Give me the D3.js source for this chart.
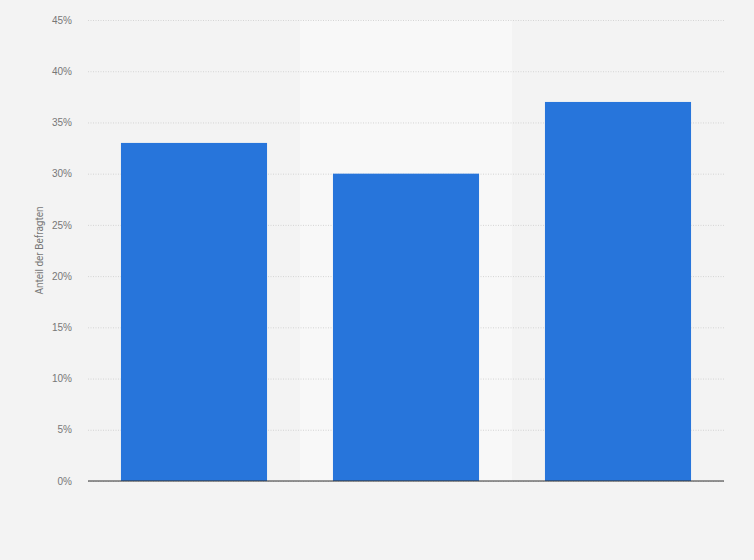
<!DOCTYPE html>
<html>
<head>
<meta charset="utf-8">
<script src="https://cdn.jsdelivr.net/npm/d3@7"></script>
<style>
  html, body { margin: 0; padding: 0; background: #f3f3f3; }
  svg { display: block; font-family: Roboto, Arial, sans-serif; }
</style>
</head>
<body>
<svg id="chart" width="754" height="560"></svg>
<script>
// data (category names are not shown)
var categories = ["A", "B", "C"];
var values = [33, 30, 37];
var yTicks = [0, 5, 10, 15, 20, 25, 30, 35, 40, 45];

var svg = d3.select("#chart");
var margin = { top: 20, right: 30, bottom: 79, left: 88 };
var width = 754 - margin.left - margin.right,
    height = 560 - margin.top - margin.bottom;

var x = d3.scaleBand()
    .domain(categories)
    .range([0, width])
    .paddingInner(0.311)
    .paddingOuter(0.1555);

var y = d3.scaleLinear()
    .domain([0, 45])
    .range([height, 0]);

var g = svg.append("g")
    .attr("transform", "translate(" + [margin.left, margin.top] + ")");

// lighter band behind every other category
var step = x.step();
g.selectAll("rect.band")
    .data(categories.filter((d, i) => i % 2 === 1))
    .enter().append("rect")
      .attr("class", "band")
      .attr("x", d => x(d) - x.paddingInner() * step / 2)
      .attr("y", 0)
      .attr("width", step)
      .attr("height", height)
      .style("fill", "#f8f8f8");

// grid + tick labels
var yAxis = g.append("g")
    .call(d3.axisLeft(y).tickValues(yTicks).tickSize(-width).tickFormat(d => d + "%"));
yAxis.select(".domain").remove();
yAxis.selectAll(".tick line")
    .style("stroke", "#d4d4d4")
    .style("stroke-dasharray", "1,1.5");
yAxis.selectAll(".tick text")
    .attr("x", -16)
    .style("fill", "#777")
    .style("font-size", "10px");

g.selectAll("rect.bar")
    .data(values)
    .enter().append("rect")
      .attr("class", "bar")
      .attr("x", (d, i) => x(categories[i]))
      .attr("y", d => y(d))
      .attr("width", x.bandwidth())
      .attr("height", d => height - y(d))
      .style("fill", "#2775db");

// baseline
g.append("line")
    .attr("x1", 0)
    .attr("x2", width)
    .attr("y1", height)
    .attr("y2", height)
    .style("stroke", "#333")
    .style("stroke-width", 1.2);

svg.append("text")
    .attr("transform", "translate(43," + (margin.top + height / 2) + ") rotate(-90)")
    .attr("text-anchor", "middle")
    .style("fill", "#777")
    .style("font-size", "10px")
    .text("Anteil der Befragten");
</script>
</body>
</html>
